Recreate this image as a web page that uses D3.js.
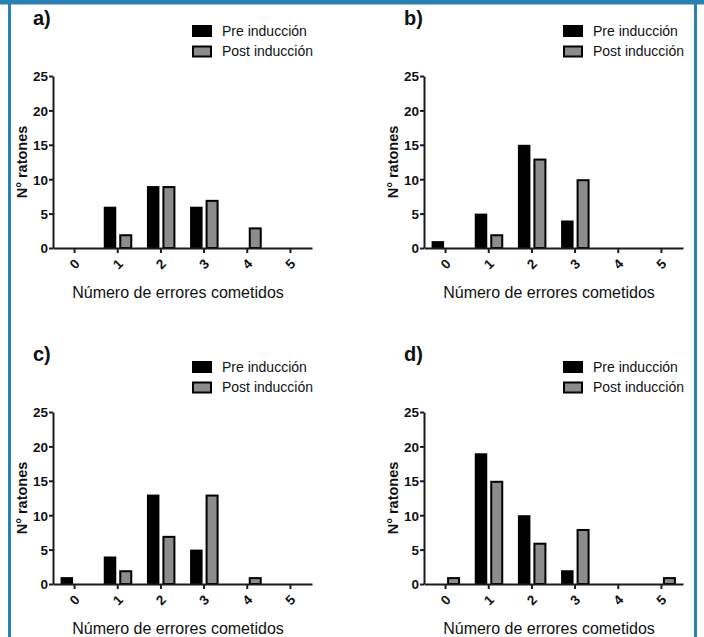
<!DOCTYPE html>
<html lang="es">
<head>
  <meta charset="UTF-8">
  <title>Número de errores cometidos</title>
  <script src="https://d3js.org/d3.v7.min.js"></script>
  <style>
    body { margin: 0; background: #fff; }
    svg { display: block; font-family: "Liberation Sans", Arial, sans-serif; }
    .axis path, .axis line { stroke: #1a1a1a; stroke-width: 2; }
  </style>
</head>
<body>
  <svg width="704" height="637"></svg>

  <script>
    // datos
    const categories = ["0", "1", "2", "3", "4", "5"];
    const yTicks = [0, 5, 10, 15, 20, 25];
    const panelLabels = ["a)", "b)", "c)", "d)"];
    const seriesNames = ["Pre inducción", "Post inducción"];

    const preA  = [0, 6, 9, 6, 0, 0];
    const postA = [0, 2, 9, 7, 3, 0];
    const preB  = [1, 5, 15, 4, 0, 0];
    const postB = [0, 2, 13, 10, 0, 0];
    const preC  = [1, 4, 13, 5, 0, 0];
    const postC = [0, 2, 7, 13, 1, 0];
    const preD  = [0, 19, 10, 2, 0, 0];
    const postD = [1, 15, 6, 8, 0, 1];

    const panels = [
      { label: panelLabels[0], pre: preA, post: postA, dx: 0,   dy: 0 },
      { label: panelLabels[1], pre: preB, post: postB, dx: 371, dy: 0 },
      { label: panelLabels[2], pre: preC, post: postC, dx: 0,   dy: 336 },
      { label: panelLabels[3], pre: preD, post: postD, dx: 371, dy: 336 }
    ];

    const svg = d3.select("svg");
    const blue = "#2b80b3";

    // marco azul
    svg.append("rect").attr("x", 0).attr("y", 0).attr("width", 704).attr("height", 4.5).attr("fill", blue);
    svg.append("rect").attr("x", 8).attr("y", 0).attr("width", 3).attr("height", 637).attr("fill", blue);
    svg.append("rect").attr("x", 694).attr("y", 0).attr("width", 3).attr("height", 637).attr("fill", blue);

    const x = d3.scaleBand().domain(categories).range([53, 312]);
    const y = d3.scaleLinear().domain([0, 25]).range([248, 76]);
    const half = x.bandwidth() / 2;

    const boldTicks = sel => sel.selectAll("text")
      .style("font-family", "'Liberation Sans', Arial, sans-serif")
      .style("font-weight", "bold")
      .style("font-size", "13.5px")
      .style("fill", "#111");

    panels.forEach(p => {
      const g = svg.append("g").attr("transform", `translate(${p.dx},${p.dy})`);

      g.append("text")
        .attr("x", 33).attr("y", 25)
        .attr("font-size", 20).attr("font-weight", "bold").attr("fill", "#111")
        .text(p.label);

      // leyenda
      const leg = g.append("g");
      leg.append("rect").attr("x", 192).attr("y", 25).attr("width", 20).attr("height", 12).attr("fill", "#000");
      leg.append("rect").attr("x", 193).attr("y", 46.5).attr("width", 18).attr("height", 10)
        .attr("fill", "#8c8c8c").attr("stroke", "#000").attr("stroke-width", 2);
      leg.selectAll("text").data(seriesNames).join("text")
        .attr("x", 222).attr("y", (d, i) => 36 + i * 20)
        .attr("font-size", 14).attr("fill", "#111")
        .text(d => d);

      // barras
      g.append("g").selectAll("rect")
        .data(p.pre.map((v, i) => ({ c: categories[i], v })).filter(d => d.v > 0))
        .join("rect")
        .attr("x", d => x(d.c) + half - 14)
        .attr("width", 12.5)
        .attr("y", d => y(d.v))
        .attr("height", d => y(0) - y(d.v))
        .attr("fill", "#000");

      g.append("g").selectAll("rect")
        .data(p.post.map((v, i) => ({ c: categories[i], v })).filter(d => d.v > 0))
        .join("rect")
        .attr("x", d => x(d.c) + half + 2.5)
        .attr("width", 11)
        .attr("y", d => y(d.v) + 1)
        .attr("height", d => y(0) - y(d.v) - 1)
        .attr("fill", "#8c8c8c")
        .attr("stroke", "#000")
        .attr("stroke-width", 2);

      // ejes
      g.append("g")
        .attr("class", "axis")
        .attr("transform", "translate(53,0)")
        .call(d3.axisLeft(y).tickValues(yTicks).tickSize(4).tickSizeOuter(0).tickPadding(1))
        .call(boldTicks)
        .call(a => a.selectAll("text").attr("dy", "0.36em"));

      g.append("g")
        .attr("class", "axis")
        .attr("transform", `translate(0,${y(0)})`)
        .call(d3.axisBottom(x).tickSize(5).tickSizeOuter(0))
        .call(boldTicks)
        .call(a => a.selectAll("text")
          .attr("y", 0).attr("dy", "0.35em")
          .attr("text-anchor", "middle")
          .attr("transform", "translate(0,16) rotate(-45)"));

      g.append("text")
        .attr("transform", "translate(22,162) rotate(-90)")
        .attr("text-anchor", "middle").attr("dy", "0.35em")
        .attr("font-size", 14.5).attr("font-weight", "bold").attr("fill", "#111")
        .text("N° ratones");

      g.append("text")
        .attr("x", 178).attr("y", 298)
        .attr("text-anchor", "middle")
        .attr("font-size", 16).attr("fill", "#111")
        .text("Número de errores cometidos");
    });
  </script>
</body>
</html>
